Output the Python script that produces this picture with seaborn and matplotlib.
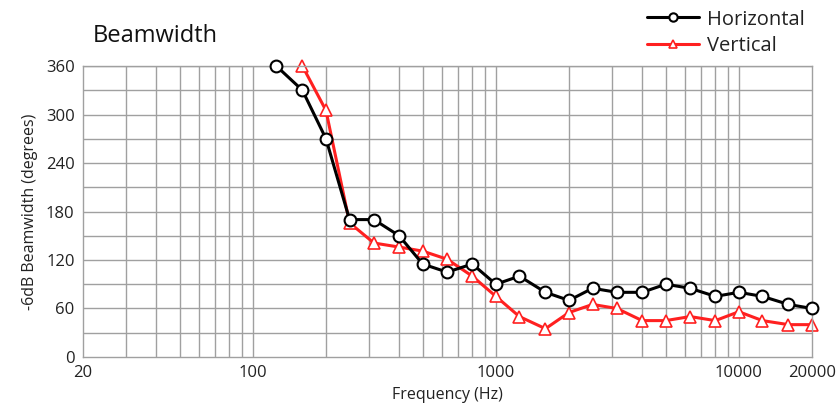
import seaborn as sns
import matplotlib.pyplot as plt
from matplotlib.ticker import FixedLocator, NullFormatter, NullLocator

freq_h = [125, 160, 200, 250, 315, 400, 500, 630, 800, 1000, 1250, 1600, 2000,
          2500, 3150, 4000, 5000, 6300, 8000, 10000, 12500, 16000, 20000]
horizontal = [360, 330, 270, 170, 170, 150, 115, 105, 115, 90, 100, 80, 70,
              85, 80, 80, 90, 85, 75, 80, 75, 65, 60]

freq_v = [160, 200, 250, 315, 400, 500, 630, 800, 1000, 1250, 1600, 2000,
          2500, 3150, 4000, 5000, 6300, 8000, 10000, 12500, 16000, 20000]
vertical = [360, 305, 166, 141, 136, 131, 121, 100, 75, 50, 35, 55,
            65, 60, 45, 45, 50, 45, 56, 45, 40, 40]

x_ticks = [20, 100, 1000, 10000, 20000]
x_grid = [30, 40, 50, 60, 70, 80, 90, 100, 200, 300, 400, 500, 600, 700, 800, 900,
          1000, 2000, 3000, 4000, 5000, 6000, 7000, 8000, 9000, 10000]

sns.set_style("white")
plt.rcParams["font.family"] = ["Open Sans", "DejaVu Sans"]

fig = plt.figure(figsize=(8.38, 4.18), dpi=100)
ax = fig.add_axes([0.099, 0.146, 0.870, 0.696])

grey = "#a0a0a0"
ax.set_xscale("log")
ax.set_xlim(20, 20000)
ax.set_ylim(0, 360)

for g in x_grid:
    ax.axvline(g, color=grey, lw=1.0, zorder=0)
for g in range(30, 361, 30):
    ax.axhline(g, color=grey, lw=1.0, zorder=0)

sns.lineplot(x=freq_h, y=horizontal, ax=ax, color="black", lw=2.2,
             marker="o", markersize=8.5, markerfacecolor="white",
             markeredgecolor="black", markeredgewidth=1.5,
             label="Horizontal", zorder=3, clip_on=False)
sns.lineplot(x=freq_v, y=vertical, ax=ax, color="#ff2020", lw=2.2,
             marker="^", markersize=8.5, markerfacecolor="white",
             markeredgecolor="#ff2020", markeredgewidth=1.2,
             label="Vertical", zorder=2, clip_on=False)

ax.xaxis.set_major_locator(FixedLocator(x_ticks))
ax.xaxis.set_major_formatter(plt.FixedFormatter([str(t) for t in x_ticks]))
ax.xaxis.set_minor_locator(NullLocator())
ax.xaxis.set_minor_formatter(NullFormatter())
ax.set_yticks(range(0, 361, 60))
ax.tick_params(axis="both", labelsize=12, colors="#222222", length=0, pad=6)

for s in ax.spines.values():
    s.set_color(grey)
    s.set_linewidth(1.0)

ax.set_xlabel("Frequency (Hz)", fontsize=11.5, color="#222222", labelpad=4)
ax.set_ylabel("-6dB Beamwidth (degrees)", fontsize=11.5, color="#222222", labelpad=6)

fig.text(0.111, 0.915, "Beamwidth", fontsize=17, color="#111111", va="center")

leg = ax.legend(loc="upper left", bbox_to_anchor=(0.762, 1.222), frameon=False,
                fontsize=14.5, handlelength=2.6, handletextpad=0.4, labelspacing=0.3,
                borderaxespad=0)
for t in leg.get_texts():
    t.set_color("#222222")
for h in leg.legend_handles:
    h.set_markersize(6)

fig.savefig("out.png", dpi=100)
